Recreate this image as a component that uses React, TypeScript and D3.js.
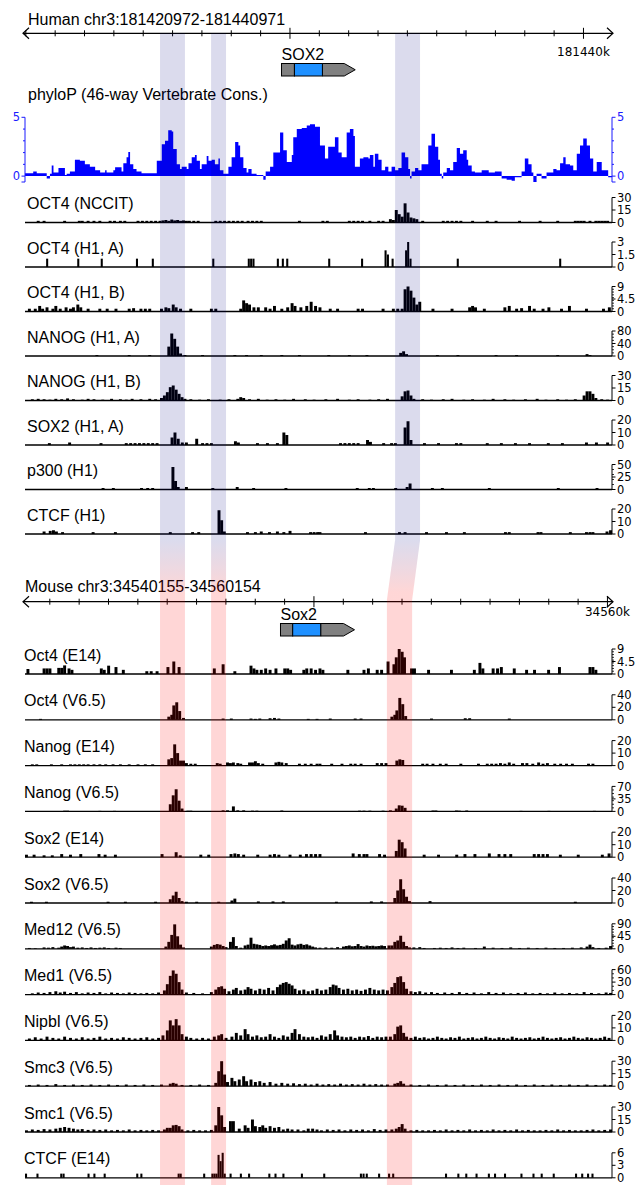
import React from "react";
import * as d3 from "d3";

type Bin = [number, number];

const WIDTH = 635;
const HEIGHT = 1185;
const PLOT_LEFT = 25;
const PLOT_RIGHT = 612;
const TRACK_H = 25;
const LABEL_FONT = "'Liberation Sans', Arial, sans-serif";
const TICK_FONT = "'DejaVu Sans', sans-serif";

const HUMAN_REGION = { species: "Human", chrom: "chr3", start: 181420972, end: 181440971 };
const MOUSE_REGION = { species: "Mouse", chrom: "chr3", start: 34540155, end: 34560154 };

const HUMAN_GENE = { name: "SOX2", txStart: 181429712, cdsStart: 181430152, cdsEnd: 181431105, txEnd: 181432224 };
const MOUSE_GENE = { name: "Sox2", txStart: 34548860, cdsStart: 34549276, cdsEnd: 34550230, txEnd: 34551382 };

// conserved elements, kb offsets from each region start
const HUMAN_HIGHLIGHTS: Bin[] = [[4.6, 5.45], [6.34, 6.85], [12.61, 13.46]];
const MOUSE_HIGHLIGHTS: Bin[] = [[4.6, 5.45], [6.34, 6.85], [12.33, 13.19]];

// phyloP conservation, step profile: [kb offset, score]
const phyloPScores: Bin[] = [
  [0, 0.25], [0.28, 0.4], [0.4, 0.25], [0.74, -0.2], [0.85, 0.2], [0.91, 0.9], [0.97, 0.3], [1.14, 0.7], [1.36, 0.1], [1.42, 0.2],
  [1.53, 0.4], [1.7, 1.4], [1.87, 1.3], [2.04, 1.0], [2.21, 0.8], [2.39, 0.5], [2.56, 0.3], [2.73, 0.5], [2.78, 0.3], [3.01, 0.5],
  [3.07, 0.75], [3.29, 0.4], [3.35, 1.1], [3.46, 1.6], [3.52, 2.05], [3.58, 1.0], [3.69, 0.6], [3.8, 0.4], [3.97, 0.25], [4.49, 1.3],
  [4.66, 2.7], [4.77, 3.0], [4.88, 3.9], [5.0, 3.8], [5.05, 2.3], [5.17, 1.0], [5.28, 0.6], [5.34, 0.8], [5.51, 0.6], [5.57, 1.1],
  [5.68, 1.6], [5.79, 1.8], [5.85, 1.3], [5.96, 0.6], [6.02, 1.0], [6.19, 1.7], [6.25, 1.3], [6.36, 1.4], [6.47, 1.0], [6.59, 1.5],
  [6.64, 0.5], [6.76, 0.2], [6.93, 0.8], [7.04, 1.6], [7.16, 2.9], [7.27, 2.6], [7.33, 1.6], [7.44, 0.7], [7.55, 0.3], [7.61, 0.6],
  [7.72, 0.2], [7.89, 0.1], [8.12, -0.3], [8.2, 0.4], [8.35, 0.8], [8.46, 2.0], [8.69, 3.7], [8.8, 2.2], [8.92, 1.2], [9.09, 1.8],
  [9.14, 3.3], [9.26, 4.0], [9.43, 4.1], [9.6, 4.3], [9.71, 4.4], [9.88, 4.2], [10.05, 2.6], [10.22, 1.5], [10.33, 2.5], [10.56, 3.3],
  [10.68, 2.0], [10.79, 1.6], [10.96, 3.7], [11.07, 4.0], [11.19, 3.4], [11.24, 0.8], [11.41, 1.5], [11.53, 1.6], [11.7, 1.5], [11.75, 1.8],
  [11.87, 0.8], [11.92, 1.9], [12.04, 1.4], [12.15, 0.5], [12.27, 0.8], [12.38, 0.4], [12.49, 0.8], [12.61, 0.5], [12.72, 0.7], [12.83, 2.0],
  [12.95, 1.6], [13.06, 0.6], [13.12, -0.2], [13.17, 0.4], [13.29, 0.7], [13.4, 0.5], [13.51, 1.0], [13.74, 2.6], [13.85, 3.6], [13.97, 2.5],
  [14.08, 1.4], [14.14, 0.2], [14.2, -0.2], [14.25, 0.3], [14.37, 0.7], [14.48, 0.5], [14.59, 1.2], [14.71, 2.4], [14.82, 1.9], [14.93, 2.2],
  [15.05, 1.4], [15.1, 0.9], [15.22, 0.4], [15.33, 0.3], [15.56, 0.5], [15.8, 0.3], [16.01, 0.4], [16.24, -0.2], [16.41, -0.3], [16.58, -0.4],
  [16.69, -0.1], [16.92, 0.4], [17.03, 1.5], [17.15, 1.0], [17.26, 0.3], [17.32, -0.5], [17.43, 0.2], [17.6, -0.2], [17.77, 0.3], [18.0, 0.6],
  [18.11, 0.5], [18.23, 1.1], [18.34, 1.6], [18.42, 1.0], [18.57, 0.9], [18.68, 0.5], [18.8, 1.9], [18.91, 2.6], [19.02, 3.2], [19.14, 2.6],
  [19.25, 1.5], [19.36, 0.4], [19.48, 1.2], [19.65, 0.5], [19.87, -0.1], [20, 0],
];

// ChIP-seq read density per bin: [kb offset, signal]
const oct4Nccit: Bin[] = [
  [0.4, 2], [0.6, 2], [1.3, 2], [1.8, 2], [1.9, 2], [2.1, 2], [2.3, 2], [2.5, 2], [2.85, 2], [3.0, 2], [3.2, 2], [3.35, 2], [3.8, 2], [3.95, 2],
  [4.1, 2], [4.25, 2], [4.4, 2], [4.55, 2], [4.65, 2.5], [4.75, 3], [4.85, 2], [4.95, 3.5], [5.05, 2.5], [5.15, 3], [5.25, 2], [5.35, 2.5],
  [5.45, 2], [5.55, 2], [5.7, 2], [5.85, 2], [6.45, 2], [6.6, 2], [6.75, 2], [6.9, 2], [7.05, 2], [7.2, 2], [7.35, 2], [7.55, 2], [7.7, 2],
  [7.85, 2], [8.0, 2], [9.3, 2], [10.1, 2], [10.25, 2], [11.0, 2], [11.15, 2], [11.3, 2], [11.45, 2], [11.7, 2], [12.0, 2], [12.15, 2],
  [12.4, 4], [12.5, 3], [12.6, 15], [12.7, 10], [12.8, 7], [12.9, 23], [13.0, 12], [13.1, 6], [13.2, 5], [13.3, 4], [13.5, 2],
  [14.2, 2], [14.35, 2], [14.5, 2], [14.65, 2], [14.8, 2], [15.2, 2], [15.7, 2], [16.0, 2], [16.8, 2], [17.5, 2], [18.1, 2],
  [18.7, 2], [18.8, 2], [18.9, 2], [19.0, 2], [19.2, 2], [19.4, 2], [19.5, 2], [19.6, 2], [19.7, 2], [19.8, 2],
];

const oct4H1A: Bin[] = [
  [0.72, 1], [1.78, 1], [2.58, 1], [3.78, 1], [4.32, 1], [6.38, 1], [7.59, 1], [7.67, 1], [7.75, 1], [8.58, 1], [8.75, 1], [8.9, 1],
  [10.33, 1], [11.45, 1], [12.25, 2], [12.33, 1.5], [12.49, 1], [12.95, 2], [13.02, 3], [13.1, 1], [14.71, 1], [18.2, 1],
];

const oct4H1B: Bin[] = [
  [0.1, 1], [0.3, 1], [0.45, 2], [0.55, 1], [0.7, 1.5], [0.9, 1], [1.0, 2], [1.15, 1], [1.35, 1.5], [1.5, 1], [1.6, 1.5], [1.75, 2.5],
  [1.85, 1.5], [2.1, 1], [2.5, 1], [2.75, 1], [3.05, 1], [3.5, 1], [3.65, 1.2], [3.9, 1], [4.05, 1], [4.2, 1], [4.6, 1], [4.75, 1.5],
  [4.85, 1.2], [5.0, 2.5], [5.1, 1.5], [5.25, 1], [5.6, 1], [6.3, 1], [6.45, 1], [7.3, 1], [7.4, 4], [7.5, 3], [7.6, 2.5], [7.75, 1.5],
  [7.9, 1.5], [8.15, 1.5], [8.3, 1], [8.45, 2], [8.7, 1], [8.9, 1.5], [9.05, 3], [9.15, 2], [9.35, 1.5], [9.55, 2], [9.7, 3.5], [9.85, 2],
  [10.0, 1.5], [10.35, 1], [10.6, 1], [11.3, 1], [11.45, 1], [12.15, 1], [12.5, 1], [12.65, 1], [12.8, 1], [12.9, 8], [13.0, 9], [13.1, 7.5],
  [13.2, 5], [13.3, 2.5], [13.4, 3.5], [13.85, 1], [14.5, 1], [15.1, 1.5], [15.2, 2], [15.3, 1.5], [15.6, 1], [16.3, 1.5], [16.45, 2],
  [16.7, 1], [16.87, 1.2], [17.14, 2], [17.3, 1], [17.6, 1], [17.8, 1.5], [18.23, 1], [18.5, 2], [19.08, 1], [19.66, 1], [19.86, 1.5],
];

const nanogH1A: Bin[] = [
  [2.4, 3], [3.5, 3], [4.2, 3], [4.85, 30], [4.95, 72], [5.05, 55], [5.15, 30], [5.25, 8], [5.4, 3], [6.0, 3], [7.1, 3], [7.5, 3],
  [8.0, 3], [8.7, 3], [9.3, 3], [10.3, 3], [11.0, 3], [11.6, 3], [12.75, 10], [12.85, 15], [12.95, 6], [14.0, 3], [14.7, 3],
  [16.0, 3], [16.7, 3], [18.1, 3], [19.1, 6], [19.2, 3],
];

const nanogH1B: Bin[] = [
  [0.2, 1.5], [0.4, 2], [0.6, 1.5], [0.8, 1], [1.0, 2], [1.2, 1.5], [1.4, 2.5], [1.6, 1.5], [1.9, 1], [2.1, 2], [2.3, 1.5], [2.6, 1],
  [2.9, 2], [3.2, 1.5], [3.4, 1], [3.6, 2], [3.9, 1.5], [4.2, 2], [4.4, 1.5], [4.6, 3], [4.7, 6], [4.8, 10], [4.9, 16], [5.0, 18],
  [5.1, 13], [5.2, 8], [5.3, 4], [5.4, 2], [5.6, 1.5], [5.9, 1], [6.2, 1.5], [6.6, 1], [6.9, 1.5], [7.2, 2], [7.3, 4], [7.4, 3],
  [7.6, 1.5], [7.9, 2], [8.2, 1], [8.5, 1.5], [8.8, 1], [9.1, 2], [9.5, 1.5], [9.8, 1], [10.2, 1.5], [10.6, 2], [11.0, 1], [11.3, 1.5],
  [11.7, 1], [12.0, 1.5], [12.3, 2], [12.8, 5], [12.9, 11], [13.0, 12], [13.1, 6], [13.2, 2], [13.5, 1.5], [13.8, 1], [14.2, 1.5],
  [14.5, 2], [14.9, 1], [15.2, 1.5], [15.6, 1], [15.9, 2], [16.3, 1.5], [16.6, 1], [17.0, 1.5], [17.4, 2], [17.7, 1], [18.1, 1.5],
  [18.4, 1], [18.7, 1.5], [19.0, 6], [19.1, 11], [19.2, 11], [19.3, 8], [19.4, 3], [19.6, 1.5], [19.8, 1],
];

const sox2H1A: Bin[] = [
  [0.78, 1.5], [1.47, 2], [2.54, 1.5], [3.4, 1.5], [3.55, 1.5], [3.7, 1.5], [3.85, 1.5], [4.0, 1.5], [4.15, 1.5], [4.3, 1.5], [4.45, 1.5],
  [4.96, 6], [5.06, 10], [5.17, 5], [5.31, 2], [5.45, 2], [5.8, 5], [6.0, 1.5], [6.15, 1.5], [6.3, 1.5], [7.12, 3], [7.22, 2],
  [7.87, 1.5], [8.21, 1.5], [8.55, 1.5], [8.77, 10], [8.87, 8], [10.7, 1.5], [10.85, 1.5], [11.0, 1.5], [11.15, 1.5], [11.3, 1.5],
  [11.62, 4], [11.72, 2.5], [12.17, 1.5], [12.44, 1.5], [12.57, 1.5], [12.9, 14], [13.0, 19], [13.1, 4], [13.56, 1.5], [14.04, 1.5],
  [14.65, 1.5], [14.8, 1.5], [15.7, 1.5], [16.18, 1.5], [16.66, 1.5], [17.14, 1.5], [17.78, 1.5], [18.26, 1.5], [19.08, 2], [19.42, 2], [19.8, 2],
];

const p300H1: Bin[] = [
  [2.61, 3], [2.96, 3], [3.92, 3], [4.13, 3], [4.3, 3], [4.99, 45], [5.08, 17], [5.17, 5], [5.45, 5], [6.35, 3], [7.18, 5], [7.74, 3],
  [8.84, 3], [11.27, 3], [11.68, 3], [11.82, 3], [12.58, 3], [12.97, 5], [13.07, 12], [13.83, 3], [14.17, 3], [15.77, 3], [18.12, 3], [19.44, 3],
];

const ctcfH1: Bin[] = [
  [0.6, 2], [0.81, 2.5], [0.92, 3], [1.02, 2], [1.23, 1.5], [2.27, 1.5], [3.03, 1.5], [4.9, 1.5], [5.66, 1.5], [5.87, 1.5],
  [6.56, 19], [6.65, 11], [6.74, 2], [7.53, 1.5], [7.8, 1.5], [8.0, 2], [8.28, 1.5], [8.55, 2], [8.77, 1.5], [8.98, 2.5],
  [9.68, 1.5], [9.8, 1.5], [9.92, 1.5], [10.0, 1.5], [11.55, 1.5], [12.71, 1.5], [12.9, 1.5], [13.63, 1.5], [14.31, 1.5], [14.92, 1.5],
  [16.32, 1.5], [16.45, 1.5], [17.43, 1.5], [17.53, 1.5], [18.53, 1.5], [19.08, 1.5], [19.2, 1.5], [19.3, 1.5], [19.78, 2], [19.9, 3],
];

const oct4E14: Bin[] = [
  [0.05, 1.8], [0.6, 2], [0.7, 2], [0.8, 2], [1.1, 2.2], [1.2, 2.2], [1.3, 3.1], [1.45, 2], [1.55, 1.5], [2.55, 2], [2.65, 1.5],
  [2.8, 3], [3.05, 2.5], [3.3, 1.5], [4.1, 1], [4.25, 1], [4.45, 1], [4.82, 2.5], [5.02, 4.5], [5.2, 2.5], [6.4, 2], [6.7, 3.5],
  [7.1, 1], [7.65, 3], [7.75, 2], [7.85, 1.5], [8.0, 1.5], [8.15, 2], [8.3, 1.5], [8.5, 2], [8.8, 2], [8.9, 2], [9.0, 1.5], [9.45, 1.5],
  [9.55, 2], [9.7, 2], [9.85, 1.5], [10.0, 2], [10.1, 1.5], [10.95, 1.5], [11.5, 1.5], [11.65, 2], [11.95, 1.5], [12.1, 1.5],
  [12.32, 4.5], [12.52, 3.5], [12.6, 6], [12.7, 9], [12.8, 8], [12.88, 6], [13.12, 2], [13.22, 2], [13.7, 1.5], [14.48, 1.5],
  [15.26, 1.5], [15.45, 4], [15.55, 2], [15.9, 2], [16.05, 2], [16.18, 2.5], [16.62, 2], [17.04, 1.5], [17.31, 1.5], [17.79, 1.5],
  [18.16, 2.5], [19.2, 2.5], [19.3, 2.5], [19.4, 1.5],
];

const oct4V65: Bin[] = [
  [0.48, 1.5], [4.85, 5], [4.95, 8], [5.02, 23], [5.12, 28], [5.22, 14], [5.35, 3], [6.7, 2], [6.98, 2], [7.65, 2], [7.8, 1.5],
  [7.95, 2], [8.3, 2.5], [8.45, 3], [8.6, 2], [9.6, 1.5], [9.9, 1.5], [10.35, 2], [11.2, 2], [11.4, 2], [12.45, 5], [12.55, 8],
  [12.62, 15], [12.72, 35], [12.82, 25], [12.92, 6], [13.8, 2], [14.95, 2.5], [15.1, 2.5], [16.45, 2],
];

const nanogE14: Bin[] = [
  [0.2, 1], [0.35, 1], [0.85, 1], [1.2, 1], [1.5, 1], [1.65, 1], [1.8, 1], [1.95, 1], [2.1, 1], [2.3, 1], [2.5, 1], [2.7, 1], [2.95, 1],
  [3.2, 1], [3.5, 1], [3.8, 1], [4.05, 1], [4.3, 1], [4.85, 5], [4.95, 6], [5.05, 17], [5.15, 10], [5.25, 4], [5.35, 4], [5.45, 2],
  [5.6, 1.5], [5.75, 1.5], [6.5, 2], [6.6, 1.5], [6.85, 2.5], [6.95, 2], [7.05, 2.5], [7.2, 2], [7.3, 1.5], [7.6, 2.5], [7.7, 2.5],
  [7.8, 3.5], [7.9, 2], [8.05, 1.5], [8.5, 2.5], [8.6, 3], [8.7, 2.5], [8.85, 2], [9.3, 1.5], [9.5, 1.5], [9.7, 1.5], [9.9, 1.5],
  [10.0, 1.5], [10.4, 1.5], [10.75, 1.5], [11.05, 1.5], [11.2, 1.5], [11.4, 1.5], [11.95, 2], [12.1, 2], [12.25, 2], [12.62, 4],
  [12.72, 5], [12.82, 4.5], [13.5, 1.5], [13.65, 1.5], [13.85, 1.5], [14.1, 1.5], [14.3, 1.5], [14.8, 1.5], [15.4, 1.5], [15.7, 1.5],
  [15.85, 1.5], [16.0, 1.5], [16.15, 2], [16.3, 1.5], [16.45, 2.5], [16.6, 1.5], [16.9, 2], [17.05, 2], [17.25, 1.5], [17.45, 2.5],
  [17.6, 1.5], [17.75, 2], [18.0, 1.5], [18.2, 1.5], [18.4, 1.5], [18.6, 1.5], [19.15, 1.5], [19.3, 1.5],
];

const nanogV65: Bin[] = [
  [1.3, 2], [1.4, 2], [2.5, 1.5], [3.0, 1.5], [4.9, 20], [5.0, 45], [5.1, 62], [5.2, 30], [5.3, 8], [5.5, 2], [5.6, 2], [6.7, 3],
  [6.85, 3], [7.05, 14], [7.2, 3], [7.4, 3], [7.7, 2], [7.85, 2], [8.7, 2.5], [11.35, 2], [11.5, 2], [11.7, 2], [12.15, 2], [12.4, 3],
  [12.6, 8], [12.7, 17], [12.8, 16], [12.9, 10], [13.85, 2.5], [13.95, 2.5], [14.65, 2.5], [14.75, 2], [15.0, 2.5], [16.85, 1.5],
  [17.8, 1.5], [19.35, 1.5],
];

const sox2E14: Bin[] = [
  [0.0, 2], [0.26, 2], [0.6, 1.5], [0.88, 1.5], [1.2, 2.5], [1.5, 2], [1.85, 2.5], [2.47, 2.5], [2.68, 2], [3.03, 2], [4.62, 2.5],
  [5.1, 4], [5.24, 1.5], [5.94, 2], [6.21, 2], [6.97, 2.5], [7.1, 3], [7.22, 2.5], [7.4, 2], [7.88, 2], [8.3, 2], [8.45, 2.5], [8.6, 2],
  [8.98, 2], [9.33, 2], [9.54, 2.5], [9.7, 2.5], [9.85, 2.5], [10.0, 2.5], [11.13, 3], [11.34, 2.5], [11.5, 2.5], [11.6, 2.5],
  [12.03, 2.5], [12.2, 2], [12.6, 5], [12.7, 14], [12.8, 12], [12.9, 7], [13.55, 2], [14.04, 2], [14.66, 2], [14.94, 2.5], [15.28, 2.5],
  [15.77, 3], [16.1, 2.5], [16.3, 2.5], [16.5, 2.5], [17.3, 2.5], [17.45, 2.5], [17.6, 2.5], [17.75, 2.5], [18.19, 2], [18.8, 2],
  [19.62, 2], [19.85, 3],
];

const sox2V65: Bin[] = [
  [0.17, 2], [0.68, 2], [2.78, 2], [3.37, 2], [4.4, 2], [4.9, 6], [5.0, 12], [5.1, 18], [5.2, 8], [5.3, 3], [5.45, 2], [5.8, 2],
  [6.55, 2], [7.0, 4], [7.1, 7], [7.9, 2.5], [8.4, 2.5], [8.75, 2.5], [10.56, 2], [11.75, 2.5], [12.1, 2.5], [12.55, 8], [12.65, 20],
  [12.75, 38], [12.85, 22], [12.95, 10], [13.05, 3], [13.75, 3], [18.7, 2],
];

const med12V65: Bin[] = [
  [0.1, 3], [0.3, 2], [0.6, 5], [0.75, 4], [0.9, 6], [1.1, 4], [1.2, 8], [1.3, 12], [1.4, 10], [1.5, 6], [1.6, 8], [1.75, 4],
  [1.9, 5], [2.05, 3], [2.2, 5], [2.35, 3], [2.5, 4], [2.65, 5], [2.8, 3], [3.05, 4], [3.2, 3], [4.75, 8], [4.85, 25], [4.95, 50],
  [5.05, 88], [5.15, 45], [5.25, 15], [5.35, 5], [6.3, 8], [6.4, 14], [6.5, 17], [6.6, 15], [6.7, 10], [6.8, 6], [6.95, 25], [7.05, 42],
  [7.15, 10], [7.3, 4], [7.45, 12], [7.55, 15], [7.65, 40], [7.75, 18], [7.85, 16], [7.95, 14], [8.05, 10], [8.15, 12], [8.25, 10],
  [8.35, 13], [8.45, 16], [8.55, 12], [8.65, 14], [8.75, 18], [8.85, 30], [8.95, 38], [9.05, 15], [9.15, 12], [9.25, 16], [9.35, 18],
  [9.45, 14], [9.55, 16], [9.65, 12], [9.75, 8], [9.85, 5], [10.0, 4], [10.2, 5], [10.4, 4], [10.6, 6], [10.8, 8], [10.9, 10],
  [11.0, 12], [11.1, 9], [11.2, 10], [11.3, 17], [11.4, 10], [11.5, 8], [11.6, 12], [11.7, 10], [11.8, 11], [11.9, 9], [12.0, 10],
  [12.1, 12], [12.2, 10], [12.35, 12], [12.45, 12], [12.55, 25], [12.65, 30], [12.75, 47], [12.85, 25], [12.95, 10], [13.05, 5],
  [13.2, 5], [13.4, 6], [13.55, 3], [13.9, 3], [14.1, 4], [14.3, 3], [14.5, 5], [14.7, 3], [14.9, 4], [15.3, 3], [15.6, 8], [15.9, 4],
  [16.2, 3], [16.5, 5], [16.8, 3], [17.1, 4], [17.4, 3], [17.7, 4], [18.0, 3], [18.3, 3], [18.6, 4], [18.9, 5], [19.1, 8], [19.2, 15],
  [19.3, 6], [19.5, 3], [19.75, 4], [19.9, 10],
];

const med1V65: Bin[] = [
  [0.2, 3], [0.4, 5], [0.6, 4], [0.8, 6], [1.0, 8], [1.15, 5], [1.3, 7], [1.5, 4], [1.7, 6], [1.9, 3], [2.1, 5], [2.3, 4], [2.5, 6],
  [2.7, 3], [2.9, 5], [3.1, 4], [3.3, 3], [3.5, 5], [3.7, 4], [3.9, 3], [4.1, 4], [4.3, 3], [4.5, 5], [4.7, 10], [4.8, 25], [4.9, 45],
  [5.0, 58], [5.1, 50], [5.2, 30], [5.3, 12], [5.45, 5], [5.7, 4], [6.0, 3], [6.3, 6], [6.45, 12], [6.55, 18], [6.65, 20], [6.75, 14],
  [6.9, 8], [7.05, 12], [7.15, 16], [7.3, 10], [7.45, 12], [7.55, 18], [7.65, 14], [7.8, 10], [7.95, 14], [8.1, 12], [8.25, 16],
  [8.4, 10], [8.55, 18], [8.65, 24], [8.75, 28], [8.85, 30], [8.95, 26], [9.05, 22], [9.15, 14], [9.3, 10], [9.45, 12], [9.6, 8],
  [9.75, 10], [9.9, 14], [10.05, 10], [10.2, 12], [10.35, 18], [10.45, 24], [10.55, 22], [10.65, 16], [10.8, 12], [10.95, 14],
  [11.1, 10], [11.25, 12], [11.4, 9], [11.55, 12], [11.7, 16], [11.85, 12], [12.0, 10], [12.15, 12], [12.3, 10], [12.45, 18],
  [12.55, 28], [12.65, 42], [12.75, 44], [12.85, 30], [12.95, 14], [13.1, 8], [13.25, 6], [13.4, 8], [13.6, 5], [13.8, 6], [14.0, 4],
  [14.25, 5], [14.5, 4], [14.75, 6], [15.0, 4], [15.25, 5], [15.5, 3], [15.75, 6], [16.0, 4], [16.25, 5], [16.5, 3], [16.75, 4],
  [17.0, 5], [17.25, 3], [17.5, 4], [17.75, 3], [18.0, 5], [18.25, 3], [18.5, 4], [18.75, 3], [19.0, 6], [19.25, 4], [19.5, 3],
  [19.75, 5], [19.9, 4],
];

const nipblV65: Bin[] = [
  [0.1, 1.5], [0.3, 2.5], [0.5, 1.5], [0.7, 3], [0.9, 2], [1.1, 1.5], [1.3, 3], [1.5, 2], [1.7, 1.5], [1.9, 2.5], [2.1, 1.5], [2.3, 2],
  [2.5, 3], [2.7, 1.5], [2.9, 2], [3.1, 1.5], [3.3, 2.5], [3.5, 2], [3.7, 1.5], [3.9, 2], [4.1, 2.5], [4.3, 1.5], [4.5, 2], [4.65, 4],
  [4.8, 8], [4.9, 16], [5.0, 12], [5.1, 17], [5.2, 12], [5.3, 5], [5.45, 3], [5.6, 2], [5.8, 1.5], [6.0, 2], [6.2, 1.5], [6.4, 3],
  [6.55, 4], [6.65, 5], [6.8, 2], [7.0, 3], [7.15, 6], [7.3, 4], [7.45, 9], [7.55, 5], [7.7, 3], [7.85, 4], [8.0, 2.5], [8.15, 3],
  [8.3, 5], [8.45, 3], [8.6, 2], [8.75, 4], [8.9, 3], [9.05, 6], [9.15, 9], [9.3, 5], [9.45, 3], [9.6, 2.5], [9.75, 3], [9.9, 2],
  [10.05, 4], [10.2, 3], [10.35, 5], [10.5, 8], [10.6, 4], [10.75, 3], [10.9, 2.5], [11.05, 3], [11.2, 2], [11.35, 3], [11.5, 2.5],
  [11.65, 3.5], [11.8, 2], [11.95, 3], [12.1, 2.5], [12.25, 3], [12.4, 3], [12.55, 5], [12.65, 11], [12.75, 12], [12.85, 6],
  [12.95, 3], [13.1, 2], [13.25, 3], [13.4, 2], [13.55, 2.5], [13.7, 1.5], [13.85, 2], [14.0, 3], [14.15, 2], [14.3, 1.5], [14.45, 2.5],
  [14.6, 2], [14.75, 3], [14.9, 1.5], [15.05, 2], [15.2, 2.5], [15.35, 1.5], [15.5, 2], [15.65, 3], [15.8, 2], [15.95, 1.5], [16.1, 2.5],
  [16.25, 2], [16.4, 1.5], [16.55, 3], [16.7, 2], [16.85, 1.5], [17.0, 2], [17.15, 2.5], [17.3, 1.5], [17.45, 2], [17.6, 3], [17.75, 2],
  [17.9, 1.5], [18.05, 2], [18.2, 2.5], [18.35, 1.5], [18.5, 2], [18.65, 3], [18.8, 2], [18.95, 1.5], [19.1, 2.5], [19.25, 2],
  [19.4, 1.5], [19.55, 2], [19.7, 3], [19.85, 2],
];

const smc3V65: Bin[] = [
  [0.1, 1.5], [0.4, 2], [0.7, 1.5], [1.0, 2.5], [1.3, 1.5], [1.6, 2], [1.9, 1.5], [2.2, 2], [2.5, 1.5], [2.8, 2], [3.1, 1.5], [3.4, 2],
  [3.7, 1.5], [4.0, 2], [4.3, 1.5], [4.6, 2], [4.9, 3], [5.0, 4], [5.1, 3], [5.3, 1.5], [5.6, 1.5], [5.9, 2], [6.2, 1.5], [6.45, 4],
  [6.55, 18], [6.65, 30], [6.75, 14], [6.85, 5], [7.0, 10], [7.1, 6], [7.25, 8], [7.4, 12], [7.5, 6], [7.65, 8], [7.8, 5], [7.95, 6],
  [8.1, 4], [8.3, 5], [8.5, 3], [8.7, 4], [8.9, 3], [9.1, 3.5], [9.3, 2.5], [9.5, 3], [9.7, 2], [9.9, 3], [10.1, 2], [10.3, 2.5],
  [10.5, 2], [10.7, 3], [10.9, 2], [11.1, 2.5], [11.3, 2], [11.5, 3], [11.7, 2], [11.9, 2.5], [12.1, 2], [12.3, 2], [12.55, 3],
  [12.65, 4], [12.75, 6], [12.85, 3], [13.1, 2], [13.4, 1.5], [13.7, 2], [14.0, 1.5], [14.3, 2], [14.6, 1.5], [14.9, 2], [15.2, 1.5],
  [15.5, 2], [15.8, 1.5], [16.1, 2], [16.4, 1.5], [16.7, 2], [17.0, 1.5], [17.3, 2], [17.6, 1.5], [17.9, 2], [18.2, 1.5], [18.5, 2],
  [18.8, 1.5], [19.1, 2], [19.4, 1.5], [19.7, 2], [19.9, 1.5],
];

const smc1V65: Bin[] = [
  [0.0, 2], [0.2, 3], [0.4, 2.5], [0.6, 3.5], [0.8, 3], [1.0, 4], [1.15, 5], [1.3, 6], [1.45, 5], [1.6, 4], [1.75, 3], [1.9, 3.5],
  [2.1, 2.5], [2.3, 3], [2.5, 2.5], [2.7, 3], [2.9, 2], [3.1, 2.5], [3.3, 2], [3.5, 3], [3.7, 2], [3.9, 2.5], [4.1, 2], [4.3, 2.5],
  [4.5, 2], [4.7, 3], [4.8, 5], [4.9, 5], [5.0, 8], [5.1, 8.5], [5.2, 7], [5.3, 3], [5.5, 2], [5.7, 2.5], [5.9, 2], [6.1, 2],
  [6.3, 2.5], [6.45, 8], [6.55, 30], [6.65, 20], [6.75, 6], [6.95, 13], [7.05, 13], [7.25, 4], [7.45, 8], [7.55, 5], [7.7, 15],
  [7.8, 7], [7.95, 6], [8.05, 8], [8.15, 5], [8.3, 7], [8.45, 5], [8.6, 6], [8.75, 3], [8.9, 4], [9.05, 3], [9.25, 3], [9.45, 2],
  [9.6, 4], [9.75, 4], [9.9, 3], [10.05, 2], [10.25, 3], [10.45, 2.5], [10.65, 3], [10.85, 2], [11.05, 3], [11.25, 2.5], [11.45, 3],
  [11.65, 2], [11.85, 3.5], [12.05, 2.5], [12.25, 3], [12.45, 3], [12.6, 4], [12.7, 6], [12.8, 9.5], [12.9, 4], [13.1, 2], [13.3, 2.5],
  [13.5, 2], [13.7, 2], [13.9, 2.5], [14.1, 2], [14.3, 3], [14.5, 2], [14.7, 2.5], [14.9, 2], [15.1, 3], [15.3, 2], [15.5, 2.5],
  [15.7, 2], [15.9, 3], [16.1, 2], [16.3, 2.5], [16.5, 2], [16.7, 3], [16.9, 2], [17.1, 2.5], [17.3, 2], [17.5, 2], [17.7, 2.5],
  [17.9, 2], [18.1, 3], [18.3, 2], [18.5, 2.5], [18.7, 2], [18.9, 2], [19.1, 2.5], [19.3, 3], [19.5, 2], [19.7, 2.5], [19.9, 3],
];

const ctcfE14: Bin[] = [
  [0.0, 1], [0.39, 1], [1.2, 1], [1.28, 1], [2.13, 1], [2.33, 1], [2.68, 1], [3.79, 1], [3.93, 1], [5.2, 1], [5.27, 1], [6.07, 1],
  [6.35, 1], [6.42, 1], [6.49, 1], [6.56, 5.5], [6.63, 4], [6.7, 6], [6.77, 1], [6.97, 1], [7.32, 1], [7.6, 1], [8.29, 1], [8.5, 1],
  [8.77, 1], [9.4, 1], [10.16, 1], [11.41, 1], [11.5, 1], [11.61, 1], [12.03, 1], [12.37, 1], [12.51, 1], [14.31, 1], [14.73, 1],
  [15.0, 1], [15.35, 1], [15.77, 1], [15.98, 1], [16.32, 1], [16.88, 1], [17.29, 1], [17.57, 1], [17.98, 1], [18.74, 1], [18.95, 1],
  [19.15, 1], [19.3, 1],
];

type TrackSpec = { label: string; data: Bin[]; max: number; bin: number; minor: number };

const humanTracks: TrackSpec[] = [
  { label: "OCT4 (NCCIT)", data: oct4Nccit, max: 30, bin: 0.1, minor: 0 },
  { label: "OCT4 (H1, A)", data: oct4H1A, max: 3, bin: 0.07, minor: 0 },
  { label: "OCT4 (H1, B)", data: oct4H1B, max: 9, bin: 0.1, minor: 1 },
  { label: "NANOG (H1, A)", data: nanogH1A, max: 80, bin: 0.1, minor: 10 },
  { label: "NANOG (H1, B)", data: nanogH1B, max: 30, bin: 0.1, minor: 0 },
  { label: "SOX2 (H1, A)", data: sox2H1A, max: 20, bin: 0.1, minor: 0 },
  { label: "p300 (H1)", data: p300H1, max: 50, bin: 0.1, minor: 10 },
  { label: "CTCF (H1)", data: ctcfH1, max: 20, bin: 0.1, minor: 0 },
];

const mouseTracks: TrackSpec[] = [
  { label: "Oct4 (E14)", data: oct4E14, max: 9, bin: 0.1, minor: 1 },
  { label: "Oct4 (V6.5)", data: oct4V65, max: 40, bin: 0.1, minor: 0 },
  { label: "Nanog (E14)", data: nanogE14, max: 20, bin: 0.1, minor: 0 },
  { label: "Nanog (V6.5)", data: nanogV65, max: 70, bin: 0.1, minor: 10 },
  { label: "Sox2 (E14)", data: sox2E14, max: 20, bin: 0.1, minor: 0 },
  { label: "Sox2 (V6.5)", data: sox2V65, max: 40, bin: 0.1, minor: 0 },
  { label: "Med12 (V6.5)", data: med12V65, max: 90, bin: 0.1, minor: 10 },
  { label: "Med1 (V6.5)", data: med1V65, max: 60, bin: 0.1, minor: 10 },
  { label: "Nipbl (V6.5)", data: nipblV65, max: 20, bin: 0.1, minor: 0 },
  { label: "Smc3 (V6.5)", data: smc3V65, max: 30, bin: 0.1, minor: 0 },
  { label: "Smc1 (V6.5)", data: smc1V65, max: 30, bin: 0.1, minor: 0 },
  { label: "CTCF (E14)", data: ctcfE14, max: 6, bin: 0.07, minor: 0 },
];

// vertical layout
const HUMAN_AXIS_Y = 33.3;
const MOUSE_AXIS_Y = 601.7;
const HUMAN_TRACK0 = 222.5;
const HUMAN_TRACK_STEP = 44.5;
const MOUSE_TRACK0 = 674;
const MOUSE_TRACK_STEP = 45.8;
const LINK_TOP = 540;
const LINK_BOTTOM = 600;

const kbScale = d3.scaleLinear().domain([0, 20]).range([PLOT_LEFT, PLOT_RIGHT]);

function fmtTick(v: number) {
  return Number.isInteger(v) ? String(v) : v.toFixed(1);
}

function GenomeAxis({ region, axisY, titleY, kLabelY, titleX }: any) {
  const gx = d3.scaleLinear().domain([region.start, region.end + 1]).range([PLOT_LEFT, PLOT_RIGHT]);
  const ticks = d3.range(Math.ceil(region.start / 1000) * 1000, region.end + 1, 1000);
  const a0 = PLOT_LEFT - 2;
  const a1 = PLOT_RIGHT + 1;
  return (
    <g>
      <text x={titleX} y={titleY} fontFamily={LABEL_FONT} fontSize={16} fill="#000">
        {`${region.species} ${region.chrom}:${region.start}-${region.end}`}
      </text>
      <line x1={a0} x2={a1} y1={axisY} y2={axisY} stroke="#000" strokeWidth={1.2} />
      <path d={`M${a0 + 6},${axisY - 5.5}L${a0},${axisY}L${a0 + 6},${axisY + 5.5}`} fill="none" stroke="#000" strokeWidth={1.2} />
      <path d={`M${a1 - 6},${axisY - 5.5}L${a1},${axisY}L${a1 - 6},${axisY + 5.5}`} fill="none" stroke="#000" strokeWidth={1.2} />
      {ticks.map((t) => {
        const major = t % 10000 === 0;
        const h = major ? 5.5 : 3;
        return <line key={t} x1={gx(t)} x2={gx(t)} y1={axisY - h} y2={axisY + h} stroke="#000" strokeWidth={1} />;
      })}
      {ticks
        .filter((t) => t % 10000 === 0 && t > region.start + 15000)
        .map((t) => (
          <text key={`l${t}`} x={gx(t)} y={kLabelY} textAnchor="middle" fontFamily={TICK_FONT} fontSize={12} fill="#000">
            {`${t / 1000}k`}
          </text>
        ))}
    </g>
  );
}

function GeneModel({ region, gene, labelY, boxTop }: any) {
  const gx = d3.scaleLinear().domain([region.start, region.end + 1]).range([PLOT_LEFT, PLOT_RIGHT]);
  const h = 12.5;
  const x0 = gx(gene.txStart);
  const c0 = gx(gene.cdsStart);
  const c1 = gx(gene.cdsEnd);
  const x1 = gx(gene.txEnd);
  const tip = 11;
  const yb = boxTop + h;
  const ym = boxTop + h / 2;
  return (
    <g stroke="#000" strokeWidth={1}>
      <text x={x0} y={labelY} fontFamily={LABEL_FONT} fontSize={16} fill="#000" stroke="none">
        {gene.name}
      </text>
      <rect x={x0} y={boxTop} width={c0 - x0} height={h} fill="#808080" />
      <path d={`M${c1},${boxTop}L${x1 - tip},${boxTop}L${x1},${ym}L${x1 - tip},${yb}L${c1},${yb}Z`} fill="#808080" />
      <rect x={c0} y={boxTop} width={c1 - c0} height={h} fill="#1e90ff" />
    </g>
  );
}

function PhyloPTrack({ top }: { top: number }) {
  const yP = d3.scaleLinear().domain([-0.5, 5]).range([top + 64.7, top]);
  const area = d3
    .area<Bin>()
    .x((d) => kbScale(d[0]))
    .y0(yP(0))
    .y1((d) => yP(d[1]))
    .curve(d3.curveStepAfter);
  const blue = "#1a1aff";
  const minors = [1, 2, 3, 4];
  return (
    <g>
      <text x={28} y={top - 17} fontFamily={LABEL_FONT} fontSize={16} fill="#000">
        phyloP (46-way Vertebrate Cons.)
      </text>
      <path d={area(phyloPScores) || ""} fill="#0000ff" />
      {[PLOT_LEFT, PLOT_RIGHT].map((ax, side) => {
        const dir = side === 0 ? -1 : 1;
        return (
          <g key={ax} stroke={blue} strokeWidth={1}>
            <line x1={ax} x2={ax} y1={yP(-0.5)} y2={yP(5)} />
            {[5, 0, -0.5].map((v) => (
              <line key={v} x1={ax} x2={ax + dir * 3.5} y1={yP(v)} y2={yP(v)} />
            ))}
            {minors.map((v) => (
              <line key={`m${v}`} x1={ax} x2={ax + dir * 2} y1={yP(v)} y2={yP(v)} />
            ))}
            {[5, 0].map((v) => (
              <text
                key={`t${v}`}
                x={ax + dir * 5}
                y={yP(v)}
                dy="0.35em"
                textAnchor={side === 0 ? "end" : "start"}
                fontFamily={TICK_FONT}
                fontSize={11.5}
                fill={blue}
                stroke="none"
              >
                {v}
              </text>
            ))}
          </g>
        );
      })}
    </g>
  );
}

function SignalTrack({ spec, baseline, labelX }: { spec: TrackSpec; baseline: number; labelX: number }) {
  const y = d3.scaleLinear().domain([0, spec.max]).range([baseline, baseline - TRACK_H]);
  const mid = spec.max / 2;
  const minorTicks = spec.minor > 0 ? d3.range(spec.minor, spec.max, spec.minor).filter((v) => Math.abs(v - mid) > 1e-6) : [];
  const ax = PLOT_RIGHT;
  return (
    <g>
      <text x={labelX} y={baseline - 13.5} fontFamily={LABEL_FONT} fontSize={16} fill="#000">
        {spec.label}
      </text>
      {spec.data.map(([kb, v], i) => {
        const xa = kbScale(kb);
        const xb = kbScale(Math.min(kb + spec.bin, 20));
        const top = y(Math.min(v, spec.max));
        return <rect key={i} x={xa} y={top} width={Math.max(xb - xa, 0.8)} height={baseline - top} fill="#000" />;
      })}
      <line x1={PLOT_LEFT} x2={PLOT_RIGHT} y1={baseline} y2={baseline} stroke="#000" strokeWidth={1.3} />
      <line x1={ax} x2={ax} y1={baseline} y2={y(spec.max)} stroke="#000" strokeWidth={1} />
      {[0, mid, spec.max].map((v) => (
        <line key={`M${v}`} x1={ax} x2={ax + 3.5} y1={y(v)} y2={y(v)} stroke="#000" strokeWidth={1} />
      ))}
      {minorTicks.map((v) => (
        <line key={`m${v}`} x1={ax} x2={ax + 2} y1={y(v)} y2={y(v)} stroke="#000" strokeWidth={0.8} />
      ))}
      {[0, mid, spec.max].map((v) => (
        <text key={`t${v}`} x={ax + 5} y={y(v)} dy="0.36em" fontFamily={TICK_FONT} fontSize={11.5} fill="#000">
          {fmtTick(v)}
        </text>
      ))}
    </g>
  );
}

function Highlights() {
  const mouseX = kbScale;
  return (
    <g>
      <defs>
        <linearGradient id="linkGrad" gradientUnits="userSpaceOnUse" x1={0} x2={0} y1={LINK_TOP} y2={LINK_BOTTOM - 8}>
          <stop offset="0" stopColor="#000080" stopOpacity={0.14} />
          <stop offset="1" stopColor="#ff0000" stopOpacity={0.16} />
        </linearGradient>
      </defs>
      {HUMAN_HIGHLIGHTS.map(([a, b], i) => (
        <rect
          key={`h${i}`}
          x={kbScale(a)}
          y={HUMAN_AXIS_Y}
          width={kbScale(b) - kbScale(a)}
          height={LINK_TOP - HUMAN_AXIS_Y}
          fill="#000080"
          fillOpacity={0.14}
        />
      ))}
      {HUMAN_HIGHLIGHTS.map(([a, b], i) => {
        const [c, d] = MOUSE_HIGHLIGHTS[i];
        const pts = [
          [kbScale(a), LINK_TOP],
          [kbScale(b), LINK_TOP],
          [mouseX(d), LINK_BOTTOM],
          [mouseX(c), LINK_BOTTOM],
        ];
        return <polygon key={`l${i}`} points={pts.map((p) => p.join(",")).join(" ")} fill="url(#linkGrad)" />;
      })}
      {MOUSE_HIGHLIGHTS.map(([a, b], i) => (
        <rect
          key={`m${i}`}
          x={mouseX(a)}
          y={LINK_BOTTOM}
          width={mouseX(b) - mouseX(a)}
          height={HEIGHT - LINK_BOTTOM}
          fill="#ff0000"
          fillOpacity={0.16}
        />
      ))}
    </g>
  );
}

export default function App() {
  return (
    <svg
      width={WIDTH}
      height={HEIGHT}
      viewBox={`0 0 ${WIDTH} ${HEIGHT}`}
      style={{ position: "absolute", left: 0, top: 0, background: "#fff" }}
    >
      <rect x={0} y={0} width={WIDTH} height={HEIGHT} fill="#fff" />
      <GenomeAxis region={HUMAN_REGION} axisY={HUMAN_AXIS_Y} titleY={25} kLabelY={56} titleX={28} />
      <GeneModel region={HUMAN_REGION} gene={HUMAN_GENE} labelY={59.5} boxTop={63.5} />
      <PhyloPTrack top={117.3} />
      {humanTracks.map((t, i) => (
        <SignalTrack key={t.label} spec={t} baseline={HUMAN_TRACK0 + i * HUMAN_TRACK_STEP} labelX={27} />
      ))}
      <GenomeAxis region={MOUSE_REGION} axisY={MOUSE_AXIS_Y} titleY={592} kLabelY={616} titleX={25} />
      <GeneModel region={MOUSE_REGION} gene={MOUSE_GENE} labelY={620} boxTop={623.5} />
      {mouseTracks.map((t, i) => (
        <SignalTrack key={t.label} spec={t} baseline={MOUSE_TRACK0 + i * MOUSE_TRACK_STEP} labelX={24} />
      ))}
      <Highlights />
    </svg>
  );
}
